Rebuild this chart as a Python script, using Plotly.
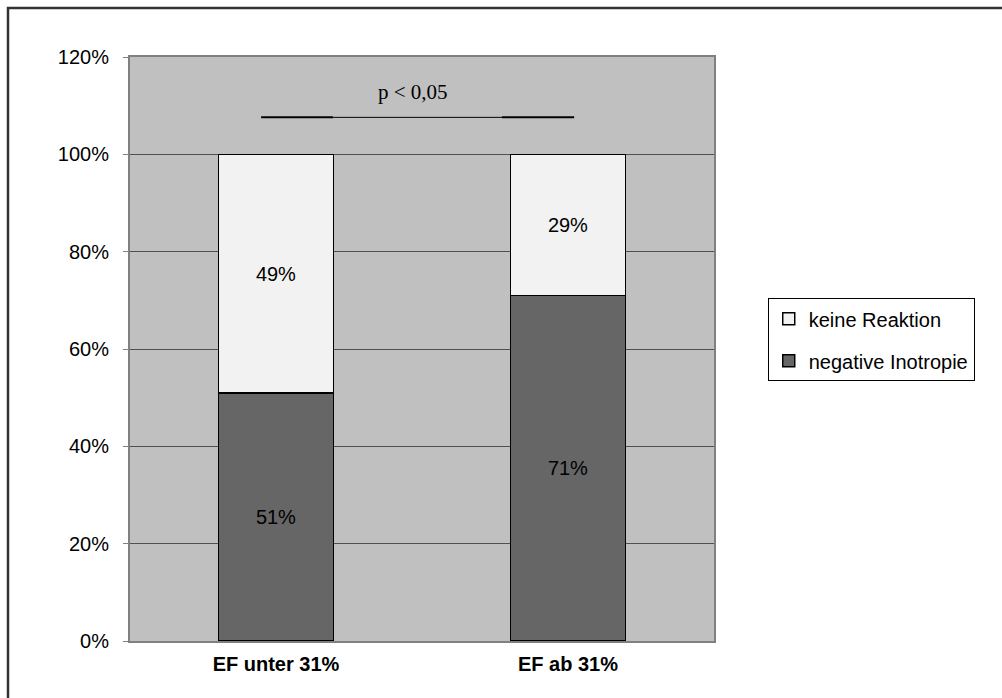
import plotly.graph_objects as go

categories = ["EF unter 31%", "EF ab 31%"]
negative_inotropie = [51, 71]
keine_reaktion = [49, 29]
y_ticks = [0, 20, 40, 60, 80, 100, 120]
y_tick_labels = [f"{v}%" for v in y_ticks]
p_label = "p < 0,05"

SANS = "Liberation Sans, Arial"

fig = go.Figure()

fig.add_trace(go.Bar(
    x=[0, 1], y=negative_inotropie, name="negative Inotropie",
    legendgroup="a", legendrank=2,
    marker=dict(color="#666666", line=dict(color="#000000", width=1.5)),
    text=[f"{v}%" for v in negative_inotropie], textposition="inside",
    insidetextanchor="middle",
    textfont=dict(family=SANS, size=20, color="#000000"),
))
fig.add_trace(go.Bar(
    x=[0, 1], y=keine_reaktion, name="keine Reaktion",
    legendgroup="b", legendrank=1,
    marker=dict(color="#F2F2F2", line=dict(color="#000000", width=1.5)),
    text=[f"{v}%" for v in keine_reaktion], textposition="inside",
    insidetextanchor="middle",
    textfont=dict(family=SANS, size=20, color="#000000"),
))

# significance bracket between the two groups
bracket_y = 107.6
fig.add_shape(type="line", xref="x", yref="y", x0=-0.051, x1=0.195,
              y0=bracket_y, y1=bracket_y, line=dict(color="#000000", width=2))
fig.add_shape(type="line", xref="x", yref="y", x0=0.195, x1=0.774,
              y0=bracket_y, y1=bracket_y, line=dict(color="#000000", width=1))
fig.add_shape(type="line", xref="x", yref="y", x0=0.774, x1=1.021,
              y0=bracket_y, y1=bracket_y, line=dict(color="#000000", width=2))
fig.add_annotation(x=0.47, y=112.8, xref="x", yref="y", text=p_label,
                   showarrow=False,
                   font=dict(family="Liberation Serif, Times New Roman", size=21,
                             color="#000000"))

# outer frame of the chart area
fig.add_shape(type="rect", xref="paper", yref="paper",
              x0=-0.2089, x1=1.6, y0=-0.2, y1=1.0839,
              line=dict(color="#333333", width=2.5), fillcolor="rgba(0,0,0,0)",
              layer="above")

fig.update_layout(
    width=1002, height=698,
    margin=dict(l=130, r=288, t=57, b=57),
    paper_bgcolor="#FFFFFF",
    plot_bgcolor="#C0C0C0",
    barmode="stack",
    bargap=0.606,
    font=dict(family=SANS, size=20, color="#000000"),
    showlegend=True,
    legend=dict(
        x=1.092, y=0.587, xanchor="left", yanchor="top",
        traceorder="grouped", tracegroupgap=13,
        bordercolor="#000000", borderwidth=1, bgcolor="#FFFFFF",
        font=dict(family=SANS, size=20, color="#000000"),
        itemwidth=30,
    ),
    xaxis=dict(
        range=[-0.5, 1.5], tickmode="array", tickvals=[0, 1],
        ticktext=[f"<b>{c}</b>" for c in categories],
        tickfont=dict(family=SANS, size=20, color="#000000"),
        showgrid=False, showline=True, linecolor="#808080", linewidth=2,
        mirror=True, ticks="", zeroline=False, ticklabelstandoff=4,
    ),
    yaxis=dict(
        range=[0, 120], tickmode="array", tickvals=y_ticks, ticktext=y_tick_labels,
        tickfont=dict(family=SANS, size=20, color="#000000"),
        showgrid=True, gridcolor="#505050", gridwidth=1,
        showline=True, linecolor="#808080", linewidth=2, mirror=True,
        ticks="outside", ticklen=5, tickcolor="#808080", zeroline=False,
        ticklabelstandoff=10,
    ),
)

fig.write_html("out.html")
